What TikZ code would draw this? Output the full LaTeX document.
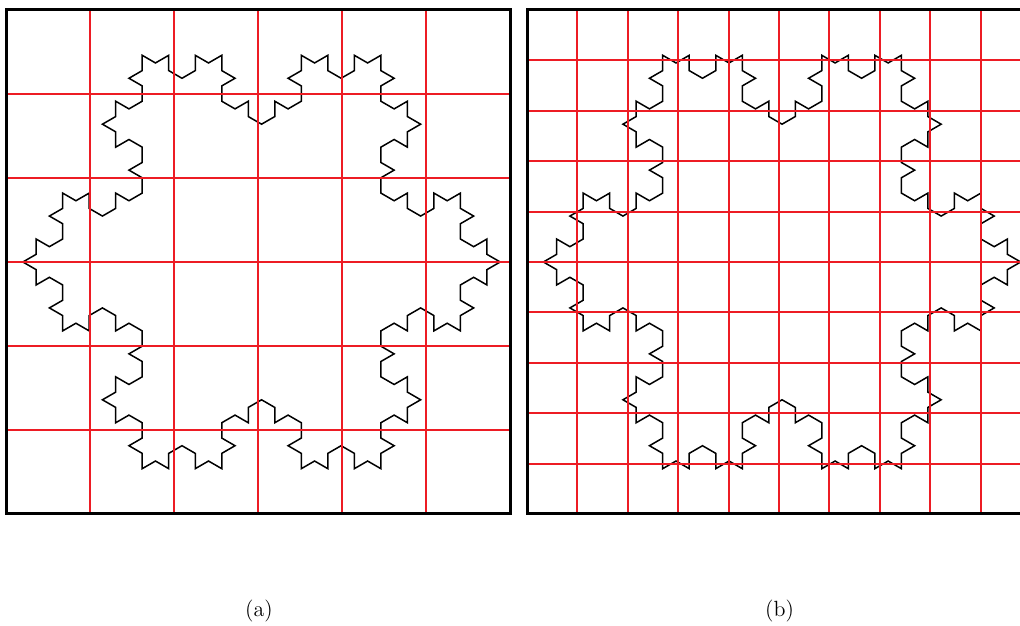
\documentclass[tikz,border=0pt]{standalone}
\usepackage{xcolor}
\definecolor{gridRed}{HTML}{ED1C24}

% Koch snowflake, order 3: 3 sides x 64 steps
\newcommand{\kochsnowflake}[1]{%
  \draw[snowflake] (#1) \foreach \side in {0,1,2} {
    \foreach \ta in {0,-60,60,0} { \foreach \tb in {0,-60,60,0} { \foreach \tc in {0,-60,60,0} {
      -- ++({150+120*\side+\ta+\tb+\tc}:15.31)
    }}}};
}

\begin{document}
\begin{tikzpicture}[
  x=0.5pt, y=0.5pt,
  frame/.style={draw=black, line width=1.5pt},
  gridline/.style={draw=gridRed, line width=1pt},
  snowflake/.style={draw=black, line width=0.75pt},
  caption/.style={font=\fontsize{11}{13}\selectfont}
]
\useasboundingbox (0,0) rectangle (1020,625);
\clip (0,0) rectangle (1020,625);

% panel (a): 6 x 6 boxes
\kochsnowflake{500.2,363}
\foreach \k in {1,...,5} {
  \draw[gridline] (6+84*\k,111) -- (6+84*\k,615);
  \draw[gridline] (6,111+84*\k) -- (510,111+84*\k);
}
\draw[frame] (6,111) rectangle (510,615);

% panel (b): 10 x 10 boxes
\kochsnowflake{1020.7,363}
\foreach \k in {1,...,9} {
  \draw[gridline] (527+50.4*\k,111) -- (527+50.4*\k,615);
  \draw[gridline] (527,111+50.4*\k) -- (1031,111+50.4*\k);
}
\draw[frame] (527,111) rectangle (1031,615);

\node[caption] (capA) at (259,14) {(a)};
\node[caption] (capB) at (779.5,14) {(b)};
\end{tikzpicture}
\end{document}
